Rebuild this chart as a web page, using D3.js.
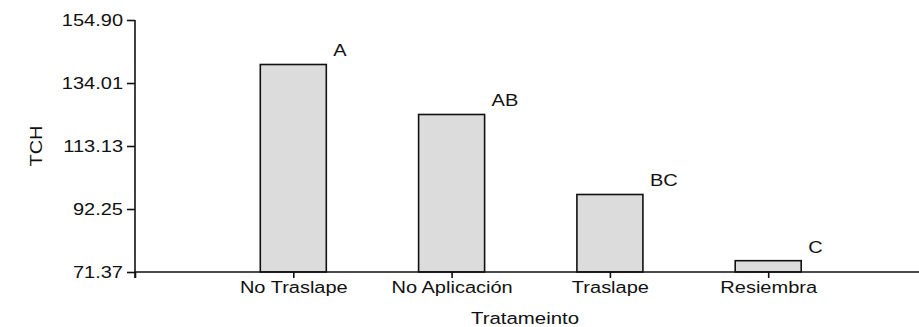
<!DOCTYPE html>
<html>
<head>
<meta charset="utf-8">
<script src="https://cdn.jsdelivr.net/npm/d3@7"></script>
<style>
  html, body { margin: 0; padding: 0; background: #fff; }
  svg { display: block; }
  text { font-family: "Liberation Sans", Arial, sans-serif; fill: #111; }
</style>
</head>
<body>
<svg id="chart" width="919" height="327"></svg>
<script>
// Treatment categories and mean TCH values with significance groups
const categories = ["No Traslape", "No Aplicación", "Traslape", "Resiembra"];
const tchValues = [140.15, 123.58, 97.06, 75.12];
const groupLetters = ["A", "AB", "BC", "C"];
const yTickValues = [71.37, 92.25, 113.13, 134.01, 154.90];
const yTickLabels = ["71.37", "92.25", "113.13", "134.01", "154.90"];

const svg = d3.select("#chart");
const W = 919, H = 327;
const plotLeft = 135, plotTop = 20, plotBottom = 272;
const stretch = 1.25;       // wide glyphs
const barWidth = 66;

// Category index 0 sits on the y-axis; bars occupy indices 1..4
const x = d3.scaleLinear().domain([0, 5]).range([plotLeft, plotLeft + 5 * 158.3]);
const y = d3.scaleLinear().domain([71.37, 154.90]).range([plotBottom, plotTop]);

// Bars
svg.append("g").selectAll("rect")
  .data(tchValues)
  .join("rect")
  .attr("x", (d, i) => x(i + 1) - barWidth / 2)
  .attr("y", d => y(d))
  .attr("width", barWidth)
  .attr("height", d => y(71.37) - y(d))
  .attr("fill", "#dcdcdc")
  .attr("stroke", "#111")
  .attr("stroke-width", 1.6);

// Significance letters, above and right of each bar
svg.append("g").selectAll("text")
  .data(tchValues)
  .join("text")
  .attr("transform", (d, i) => `translate(${x(i + 1) + barWidth / 2 + 7},${y(d) - 8}) scale(${stretch},1)`)
  .attr("font-size", 16)
  .text((d, i) => groupLetters[i]);

// Y axis
const yAxis = d3.axisLeft(y)
  .tickValues(yTickValues)
  .tickFormat((d, i) => yTickLabels[i])
  .tickSize(8)
  .tickSizeOuter(0);
const gy = svg.append("g").attr("transform", `translate(${plotLeft},0)`).call(yAxis);
gy.select(".domain").remove();
gy.selectAll(".tick line").attr("stroke", "#111").attr("stroke-width", 1.6);
gy.selectAll(".tick text")
  .attr("x", -12 / stretch)
  .attr("transform", `scale(${stretch},1)`)
  .attr("font-size", 16)
  .attr("font-family", "Liberation Sans, Arial, sans-serif")
  .attr("fill", "#111");
gy.append("line")
  .attr("x1", 0).attr("x2", 0)
  .attr("y1", plotTop).attr("y2", plotBottom + 6)
  .attr("stroke", "#111").attr("stroke-width", 1.6);

// X axis
const xAxis = d3.axisBottom(x)
  .tickValues([0, 1, 2, 3, 4])
  .tickFormat(i => i === 0 ? "" : categories[i - 1])
  .tickSize(6)
  .tickSizeOuter(0);
const gx = svg.append("g").attr("transform", `translate(0,${plotBottom})`).call(xAxis);
gx.select(".domain").remove();
gx.selectAll(".tick line").attr("stroke", "#111").attr("stroke-width", 1.6);
gx.selectAll(".tick text")
  .attr("y", 21)
  .attr("dy", 0)
  .attr("transform", `scale(${stretch},1)`)
  .attr("font-size", 16)
  .attr("font-family", "Liberation Sans, Arial, sans-serif")
  .attr("fill", "#111");
gx.append("line")
  .attr("x1", plotLeft).attr("x2", W)
  .attr("y1", 0).attr("y2", 0)
  .attr("stroke", "#111").attr("stroke-width", 1.6);

// Axis titles
svg.append("text")
  .attr("transform", `translate(525,324) scale(1.2,1)`)
  .attr("text-anchor", "middle")
  .attr("font-size", 17)
  .text("Tratameinto");

svg.append("text")
  .attr("transform", `translate(42,146) rotate(-90) scale(${stretch},1)`)
  .attr("text-anchor", "middle")
  .attr("font-size", 16)
  .text("TCH");
</script>
</body>
</html>
